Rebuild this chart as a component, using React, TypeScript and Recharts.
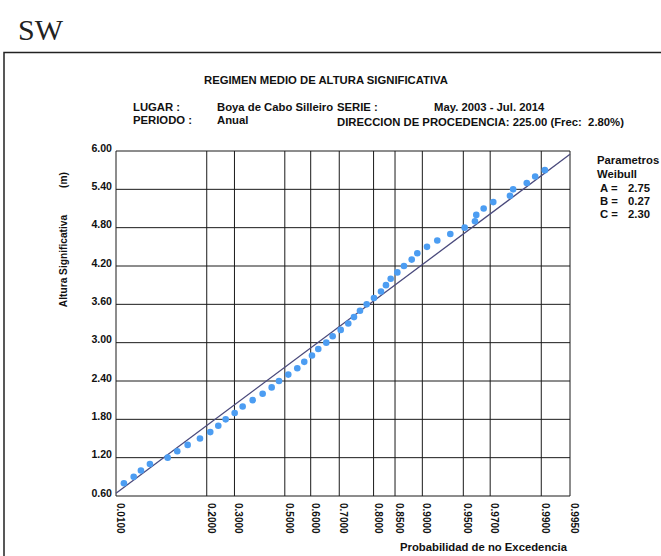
import React from "react";
import {
  ComposedChart,
  Scatter,
  XAxis,
  YAxis,
  CartesianGrid,
  ReferenceLine,
} from "recharts";

// Weibull parameters (legend)
const paramA = 2.75; // scale
const paramB = 0.27; // location
const paramC = 2.3; // shape

// Non-exceedance probability ticks on the x axis
const xTickProbs = [0.01, 0.2, 0.3, 0.5, 0.6, 0.7, 0.8, 0.85, 0.9, 0.95, 0.97, 0.99, 0.995];
const xTickLabels = ["0.0100", "0.2000", "0.3000", "0.5000", "0.6000", "0.7000", "0.8000", "0.8500", "0.9000", "0.9500", "0.9700", "0.9900", "0.9950"];

// Y ticks (m)
const yTicks = [0.6, 1.2, 1.8, 2.4, 3.0, 3.6, 4.2, 4.8, 5.4, 6.0];

// Empirical points: significant wave height (m) and non-exceedance probability
const heights = [
  0.8, 0.9, 1.0, 1.1, 1.2, 1.3, 1.4, 1.5, 1.6, 1.7,
  1.8, 1.9, 2.0, 2.1, 2.2, 2.3, 2.4, 2.5, 2.6, 2.7,
  2.8, 2.9, 3.0, 3.1, 3.2, 3.3, 3.4, 3.5, 3.6, 3.7,
  3.8, 3.9, 4.0, 4.1, 4.2, 4.3, 4.4, 4.5, 4.6, 4.7,
  4.8, 4.9, 5.0, 5.1, 5.2, 5.3, 5.4, 5.5, 5.6, 5.7,
];
const probabilities = [
  0.0166, 0.0274, 0.0373, 0.0519, 0.0882, 0.1118, 0.1403, 0.1778, 0.2119, 0.24,
  0.2669, 0.3007, 0.3317, 0.3713, 0.4112, 0.4474, 0.4768, 0.5137, 0.549, 0.5758,
  0.6047, 0.6278, 0.6562, 0.6782, 0.7047, 0.7286, 0.7459, 0.7633, 0.7819, 0.801,
  0.8184, 0.8301, 0.8407, 0.8548, 0.868, 0.8823, 0.8919, 0.9071, 0.9214, 0.937,
  0.9512, 0.9597, 0.9607, 0.9659, 0.9718, 0.98, 0.9813, 0.9861, 0.9885, 0.9908,
];

// Weibull reduced variate for the probability axis
const reduced = (p: number) => Math.pow(-Math.log(1 - p), 1 / paramC);

const xTicks = xTickProbs.map(reduced);
const tMin = xTicks[0];
const tMax = xTicks[xTicks.length - 1];

const points = heights.map((h, i) => ({ t: reduced(probabilities[i]), h }));

const FONT = "'Liberation Sans', Arial, Helvetica, sans-serif";
const TEXT = "#111";

const YTick = (props: any) => {
  const { x, y, payload } = props;
  return (
    <text x={x} y={y + 0.5} textAnchor="end" fontFamily={FONT} fontWeight="bold" fontSize={10.6} fill={TEXT}>
      {Number(payload.value).toFixed(2)}
    </text>
  );
};

const XTick = (props: any) => {
  const { x, payload, index } = props;
  const lbl = xTickLabels[index] ?? "";
  const yy = 503;
  return (
    <text
      x={x}
      y={yy}
      transform={`rotate(90 ${x} ${yy})`}
      dy={-1}
      textAnchor="start"
      fontFamily={FONT}
      fontWeight="bold"
      fontSize={10}
      fill={TEXT}
    >
      {lbl}
    </text>
  );
};

const Dot = (props: any) => {
  const { cx, cy } = props;
  return <circle cx={cx} cy={cy} r={3.3} fill="#4c9df2" />;
};

const T = (p: any) => (
  <text fontFamily={FONT} fontWeight="bold" fontSize={11.3} fill={TEXT} style={{ whiteSpace: "pre" }} {...p} />
);

export default function App() {
  return (
    <div style={{ position: "absolute", left: 0, top: 0, width: 661, height: 556, background: "#fff" }}>
      <ComposedChart
        width={661}
        height={556}
        margin={{ top: 151, right: 91, bottom: 30, left: 56 }}
        data={points}
      >
        <CartesianGrid stroke="#1a1a1a" strokeWidth={1} horizontal vertical />
        <XAxis
          type="number"
          dataKey="t"
          domain={[tMin, tMax]}
          ticks={xTicks}
          allowDataOverflow
          tick={<XTick />}
          tickLine={false}
          axisLine={false}
          height={30}
          interval={0}
        />
        <YAxis
          type="number"
          dataKey="h"
          domain={[0.6, 6.0]}
          ticks={yTicks}
          allowDataOverflow
          tick={<YTick />}
          tickLine={false}
          axisLine={false}
          tickSize={0}
          tickMargin={4}
          width={60}
          interval={0}
        />
        <ReferenceLine
          segment={[
            { x: tMin, y: paramB + paramA * tMin },
            { x: tMax, y: paramB + paramA * tMax },
          ]}
          stroke="#4a4a7c"
          strokeWidth={1.3}
          ifOverflow="visible"
        />
        <Scatter data={points} dataKey="h" shape={<Dot />} isAnimationActive={false} />
      </ComposedChart>
      <svg
        width={661}
        height={556}
        style={{ position: "absolute", left: 0, top: 0, pointerEvents: "none" }}
      >
        <text x={18} y={40} fontFamily="'Liberation Serif', 'Times New Roman', serif" fontSize={30} fill="#222">
          SW
        </text>
        <path d="M4 556 L4 52.5 L661 52.5" fill="none" stroke="#222" strokeWidth={1.5} />
        <T x={204} y={84}>REGIMEN MEDIO DE ALTURA SIGNIFICATIVA</T>
        <T x={133} y={111}>LUGAR :</T>
        <T x={133} y={124}>PERIODO :</T>
        <T x={217} y={111}>Boya de Cabo Silleiro</T>
        <T x={217} y={124}>Anual</T>
        <T x={337} y={111}>SERIE :</T>
        <T x={434} y={111}>May. 2003 - Jul. 2014</T>
        <T x={337} y={125.5}>{"DIRECCION DE PROCEDENCIA: 225.00 (Frec:  2.80%)"}</T>
        <T x={597} y={164}>Parametros</T>
        <T x={597} y={178}>Weibull</T>
        <T x={600} y={192}>A =</T>
        <T x={628} y={192}>2.75</T>
        <T x={600} y={205}>B =</T>
        <T x={628} y={205}>0.27</T>
        <T x={600} y={217.5}>C =</T>
        <T x={628} y={217.5}>2.30</T>
        <T x={400} y={551}>Probabilidad de no Excedencia</T>
        <text
          x={67}
          y={261}
          transform="rotate(-90 67 261)"
          textAnchor="middle"
          fontFamily={FONT}
          fontWeight="bold"
          fontSize={10.2}
          fill={TEXT}
        >
          Altura Significativa
        </text>
        <text
          x={67}
          y={180}
          transform="rotate(-90 67 180)"
          textAnchor="middle"
          fontFamily={FONT}
          fontWeight="bold"
          fontSize={10.2}
          fill={TEXT}
        >
          (m)
        </text>
      </svg>
    </div>
  );
}
